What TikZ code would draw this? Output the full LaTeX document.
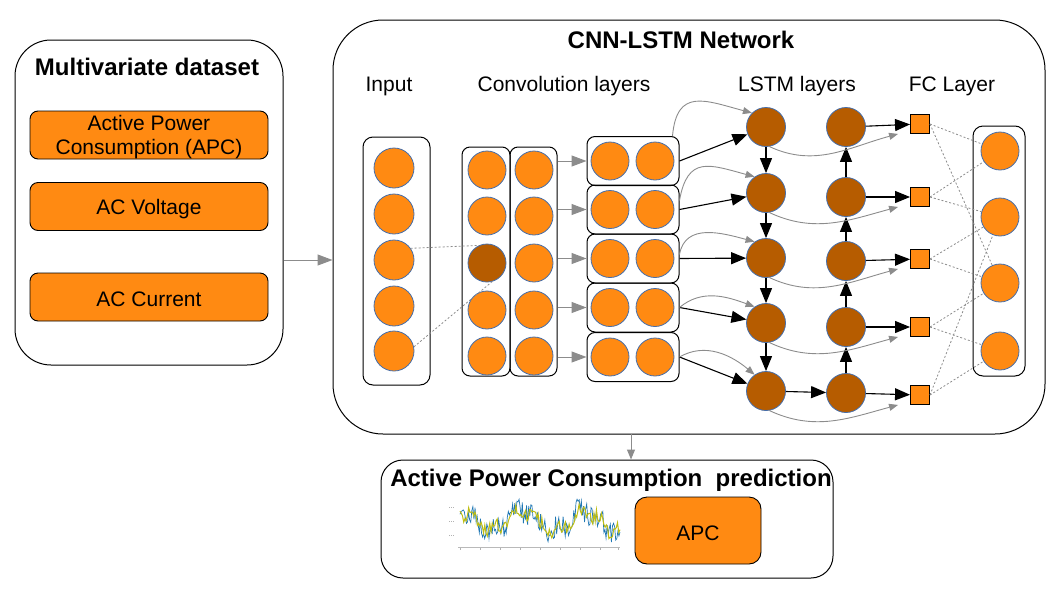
\documentclass[tikz,border=0pt]{standalone}
\usepackage{fontspec}
\setmainfont{Liberation Sans}
\usetikzlibrary{arrows.meta,calc}
\definecolor{orng}{RGB}{255,138,18}
\definecolor{brwn}{RGB}{182,92,0}
\definecolor{cedge}{RGB}{70,110,170}
\definecolor{garr}{RGB}{140,140,140}
\definecolor{chb}{RGB}{31,119,180}
\definecolor{chy}{RGB}{190,190,20}
\newcommand{\lowr}[1]{\raisebox{-2.5pt}[\height][\depth]{#1}}
\begin{document}
\begin{tikzpicture}[x=1pt,y=1pt,
  frame/.style={draw=black,line width=1pt,rounded corners=#1,inner sep=0pt},
  frame/.default=8pt,
  obox/.style={frame=#1,fill=orng,line width=0.9pt},
  obox/.default=8pt,
  cir/.style={circle,draw=cedge,line width=0.8pt,fill=orng,minimum size=38pt,inner sep=0pt},
  bcir/.style={cir,fill=brwn},
  fcsq/.style={draw=black,line width=0.9pt,fill=orng,minimum size=19pt,inner sep=0pt},
  lbl/.style={font=\fontsize{21}{24}\selectfont,inner sep=0pt},
  ttl/.style={font=\bfseries\fontsize{24}{28}\selectfont,inner sep=0pt},
  garrow/.style={draw=garr,line width=1pt,-{Triangle[length=15pt,width=11pt]}},
  gsmall/.style={draw=garr,line width=1pt,-{Triangle[length=10pt,width=8pt]}},
  gcurve/.style={draw=garr,line width=0.9pt,-{Triangle[length=9pt,width=7pt]}},
  barrow/.style={draw=black,line width=1.1pt,-{Triangle[length=15pt,width=12pt]}},
  dotl/.style={draw=garr,line width=0.8pt,dash pattern=on 2pt off 2pt},
]
\useasboundingbox (0,0) rectangle (1058,-595);

% ---------- Multivariate dataset ----------
\node[frame=36pt,minimum width=268pt,minimum height=325pt] (ds) at (149,-202.5) {};
\node[ttl] (dsT) at (147,-67) {Multivariate dataset};
\node[obox,minimum width=238pt,minimum height=48pt,lbl] (apcIn) at (149,-135) {\lowr{\parbox{230pt}{\centering Active Power\\Consumption (APC)}}};
\node[obox,minimum width=238pt,minimum height=48pt,lbl] (acv) at (149,-206.5) {\lowr{AC Voltage}};
\node[obox,minimum width=238pt,minimum height=48pt,lbl] (acc) at (149,-297) {\lowr{AC Current}};

% ---------- CNN-LSTM network ----------
\node[frame=50pt,minimum width=712pt,minimum height=414pt] (net) at (689,-227) {};
\node[ttl] (netT) at (681,-40) {CNN-LSTM Network};
\node[lbl] (tIn) at (389,-86) {Input};
\node[lbl] (tConv) at (564,-86) {Convolution layers};
\node[lbl] (tLstm) at (797,-86) {LSTM layers};
\node[lbl] (tFc) at (952,-86) {FC Layer};

% input
\node[frame=10pt,minimum width=67pt,minimum height=248pt] (inbox) at (396.5,-261) {};
\foreach \i/\y in {1/168,2/214,3/260,4/306,5/351}
  \node[cir,minimum size=40pt] (in\i) at (394,-\y) {};

% convolution
\node[frame=8pt,minimum width=48pt,minimum height=229pt] (convA) at (486,-261.5) {};
\node[frame=8pt,minimum width=47pt,minimum height=229pt] (convB) at (533.5,-261.5) {};
\foreach \i/\y/\s in {1/170/cir,2/216/cir,3/263/bcir,4/310/cir,5/356/cir}{
  \node[\s] (ca\i) at (487,-\y) {};
  \node[cir] (cb\i) at (534,-\y) {};
}

% pairs
\foreach \i/\y in {1/161,2/209.5,3/258.5,4/307.5,5/357}{
  \node[frame=8pt,minimum width=92pt,minimum height=49pt] (pb\i) at (633,-\y) {};
  \node[cir] (pa\i) at (610,-\y) {};
  \node[cir] (pc\i) at (655,-\y) {};
}

% LSTM
\foreach \i/\y in {1/127,2/193,3/258,4/323,5/391}
  \node[bcir,minimum size=39pt] (la\i) at (766,-\y) {};
\foreach \i/\y in {1/127,2/197,3/261,4/327,5/393}
  \node[bcir,minimum size=39pt] (lb\i) at (846,-\y) {};

% FC
\foreach \i/\y in {1/124,2/197,3/259,4/327,5/395}
  \node[fcsq] (fc\i) at (920,-\y) {};

% output
\node[frame=10pt,minimum width=52pt,minimum height=250pt] (outbox) at (999,-251) {};
\foreach \i/\y in {1/151,2/217,3/283,4/351}
  \node[cir] (o\i) at (1000,-\y) {};

% ---------- prediction ----------
\node[frame=22pt,minimum width=452pt,minimum height=118pt] (pred) at (607,-519) {};
\node[ttl] (predT) at (611,-480) {Active Power Consumption~ prediction};
\node[obox=12pt,minimum width=126pt,minimum height=67pt,lbl] (apcOut) at (698,-530.5) {\lowr{APC}};

% small chart
\draw[gray!55,line width=0.9pt] (458,-547) -- (620,-547);
\foreach \t in {460,480,500,520,540,560,580,600,618}
  \draw[gray!60,line width=0.5pt] (\t,-548) -- (\t,-550);
\foreach \t in {507,521,535}
  \draw[gray!60,line width=0.6pt,dash pattern=on 1pt off 1pt] (449,-\t) -- (455,-\t);
\pgfmathsetseed{11}
\draw[chb,line width=0.7pt] plot[domain=460:620,samples=150]
  (\x,{-521+10*cos(5.8*(\x-460))+4*cos(17*(\x-452))-11*rand});
\pgfmathsetseed{23}
\draw[chy,line width=1pt] plot[domain=460:620,samples=130]
  (\x,{-521+9*cos(5.8*(\x-460))+4*cos(17*(\x-452))-7*rand});

% ---------- connectors ----------
\draw[garrow] (ds.east |- in3) -- (net.west |- in3);
\coordinate (dn) at (631,-434);
\draw[gsmall] (dn) -- (dn |- pred.north);

\draw[dotl] (in3.35) -- (ca3.115);
\draw[dotl] (in5.12) -- (ca3.-75);

\foreach \i in {1,...,5}
  \draw[garrow] (convB.east |- pb\i) -- (pb\i.west);

\foreach \i in {1,...,5}
  \draw[barrow] (pb\i.east) -- (la\i);

\draw[gcurve] ([xshift=-7pt]pb1.north east) to[out=85,in=165,looseness=1.5] (la1.135);
\draw[gcurve] ([yshift=9pt]pb2.east) to[out=80,in=165,looseness=1.5] (la2.125);
\draw[gcurve] ([yshift=4pt]pb3.east) to[out=80,in=165,looseness=1.1] (la3.125);
\draw[gcurve] (pb4.east) to[out=40,in=160] (la4.125);
\draw[gcurve] (pb5.east) to[out=30,in=140] (la5.125);

\foreach \i/\j in {1/2,2/3,3/4,4/5}
  \draw[barrow] (la\i) -- (la\j);
\foreach \i/\j in {2/1,3/2,4/3,5/4}
  \draw[barrow] (lb\i) -- (lb\j);
\draw[barrow] (la5) -- (lb5);
\foreach \i in {1,...,5}
  \draw[barrow] (lb\i) -- (fc\i);

\foreach \i in {1,...,5}
  \draw[gcurve] (la\i.-80) to[out=-25,in=195] ([xshift=-12pt]fc\i.south west);

\foreach \a/\b in {1/1,1/3,2/1,2/2,3/2,3/3,4/3,4/4,5/4,5/2}
  \draw[dotl] (fc\a.east) -- (o\b);
\end{tikzpicture}
\end{document}
